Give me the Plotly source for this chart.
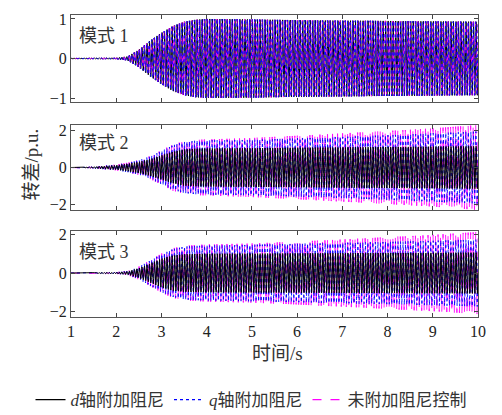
import numpy as np
import plotly.graph_objects as go

# ---- data (envelopes) ----
knots = [1, 1.5, 2, 2.25, 2.5, 2.75, 3, 3.25, 3.5, 3.75, 4, 5, 6, 7, 8, 9, 10]

# mode 1 (all three series nearly coincide)
m1_env = [0.01, 0.015, 0.02, 0.05, 0.22, 0.45, 0.65, 0.82, 0.93, 0.98, 1.0, 0.99, 0.97, 0.96, 0.95, 0.94, 0.93]

# mode 2
m2_d = [0.0, 0.04, 0.12, 0.2, 0.3, 0.45, 0.65, 0.85, 0.98, 1.02, 1.03, 1.05, 1.07, 1.09, 1.11, 1.13, 1.15]
m2_q = [0.0, 0.05, 0.15, 0.25, 0.38, 0.6, 0.9, 1.2, 1.38, 1.45, 1.47, 1.5, 1.58, 1.66, 1.75, 1.85, 1.95]
m2_n = [0.0, 0.05, 0.16, 0.26, 0.4, 0.62, 0.93, 1.25, 1.42, 1.5, 1.52, 1.6, 1.72, 1.85, 1.98, 2.12, 2.3]

# mode 3
m3_d = [0.0, 0.02, 0.04, 0.08, 0.25, 0.5, 0.75, 0.92, 0.98, 1.0, 1.01, 1.02, 1.03, 1.04, 1.05, 1.06, 1.07]
m3_q = [0.0, 0.02, 0.05, 0.1, 0.32, 0.65, 0.98, 1.25, 1.38, 1.42, 1.44, 1.48, 1.53, 1.58, 1.63, 1.69, 1.75]
m3_n = [0.0, 0.02, 0.05, 0.11, 0.34, 0.68, 1.02, 1.3, 1.43, 1.47, 1.5, 1.55, 1.65, 1.76, 1.88, 2.0, 2.15]

freq_d = 18.0   # Hz, oscillation frequency
freq_q = 18.0
freq_n = 18.0

series_names = ["<i>d</i>轴附加阻尼", "<i>q</i>轴附加阻尼", "未附加阻尼控制"]
series_colors = ["#000000", "#0000FF", "#FF00FF"]
series_dash = ["solid", "dot", "dash"]
mode_labels = ["模式 1", "模式 2", "模式 3"]
x_ticks = [1, 2, 3, 4, 5, 6, 7, 8, 9, 10]

t = np.linspace(1, 10, 6000)

def wave(env, f, ph=0.0):
    return np.interp(t, knots, env) * np.sin(2 * np.pi * f * (t - 1) + ph)

modes = [
    [(m1_env, freq_d), (m1_env, freq_q), (m1_env, freq_n)],
    [(m2_d, freq_d), (m2_q, freq_q), (m2_n, freq_n)],
    [(m3_d, freq_d), (m3_q, freq_q), (m3_n, freq_n)],
]
phases = [[0.0, 1.2, 1.2], [0.0, 0.5, 1.0], [0.0, 0.5, 1.0]]
draw_order = [[0, 2, 1], [2, 1, 0], [2, 1, 0]]

W, H = 502, 415
def py(p):
    return 1 - p / H

domains = [(py(102), py(15)), (py(210), py(125)), (py(317), py(231))]
yranges = [(-1.1, 1.1), (-2.3, 2.3), (-2.3, 2.2)]
yticks = [[-1, 0, 1], [-2, 0, 2], [-2, 0, 2]]
xdom = (71 / W, 478 / W)

FONT = "Liberation Serif, Times New Roman, Noto Sans CJK SC"
fig = go.Figure()
for j in range(3):
    fig.add_trace(go.Scatter(x=[None], y=[None], mode="lines", name=series_names[j],
                             line=dict(color=series_colors[j], width=1.3, dash=series_dash[j]),
                             showlegend=True, hoverinfo="skip"))
widths = [1.0, 0.9, 0.9]
for i, mode in enumerate(modes):
    xa = "x" if i == 0 else f"x{i+1}"
    ya = "y" if i == 0 else f"y{i+1}"
    for j in draw_order[i]:
        env, f = mode[j]
        fig.add_trace(go.Scatter(
            x=t, y=wave(env, f, phases[i][j]), mode="lines", xaxis=xa, yaxis=ya,
            showlegend=False,
            line=dict(color=series_colors[j], width=widths[j], dash=series_dash[j]),
            hoverinfo="skip"))

axis_common = dict(showgrid=False, zeroline=False, ticks="inside", ticklen=4,
                   tickcolor="#444", linecolor="#555", linewidth=1, mirror="ticks",
                   showline=True, tickfont=dict(family=FONT, size=16, color="#222"))
layout = dict(width=W, height=H, margin=dict(l=0, r=0, t=0, b=0, autoexpand=False),
              plot_bgcolor="white", paper_bgcolor="white",
              font=dict(family=FONT, color="#222"))
for i in range(3):
    xk = "xaxis" if i == 0 else f"xaxis{i+1}"
    yk = "yaxis" if i == 0 else f"yaxis{i+1}"
    ya = "y" if i == 0 else f"y{i+1}"
    xa = "x" if i == 0 else f"x{i+1}"
    layout[xk] = dict(axis_common, domain=xdom, range=[1, 10], anchor=ya,
                      tickvals=x_ticks, showticklabels=(i == 2), automargin=False)
    layout[yk] = dict(axis_common, domain=domains[i], range=list(yranges[i]), anchor=xa,
                      tickvals=yticks[i], automargin=False)
fig.update_layout(**layout)

ann = []
for i in range(3):
    ann.append(dict(text=mode_labels[i], x=77 / W, y=py([36, 143, 252][i]), xref="paper", yref="paper",
                    xanchor="left", yanchor="middle", showarrow=False,
                    font=dict(family=FONT, size=18, color="#333")))
ann.append(dict(text="转差/p.u.", x=18 / W, y=py(165), xref="paper", yref="paper",
                textangle=-90, showarrow=False, font=dict(family=FONT, size=19, color="#333")))
ann.append(dict(text="时间/s", x=277 / W, y=py(366), xref="paper", yref="paper",
                showarrow=False, font=dict(family=FONT, size=19, color="#333")))
fig.update_layout(annotations=ann,
                  legend=dict(orientation="h", x=0.5, xanchor="center", y=py(400), yanchor="middle",
                              font=dict(family=FONT, size=17, color="#333"),
                              itemwidth=30, tracegroupgap=0, traceorder="normal",
                              bgcolor="rgba(0,0,0,0)"))
fig.write_html("out.html", config={"displayModeBar": False},
               post_script="document.body.style.margin='0';document.body.style.overflow='hidden';")
